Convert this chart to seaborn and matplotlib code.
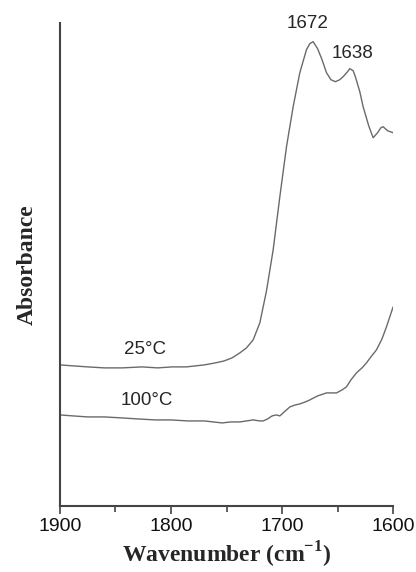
import matplotlib
matplotlib.use("Agg")
import matplotlib.pyplot as plt
import seaborn as sns
import pandas as pd
from matplotlib.ticker import MultipleLocator

# Wavenumbers (cm-1) and absorbance (arbitrary units, offset spectra)
wn_25 = [1900, 1888, 1875, 1860, 1844, 1826, 1812, 1799, 1786, 1778, 1770, 1760, 1752,
         1745, 1738, 1732, 1726, 1720, 1714, 1708, 1702, 1696, 1690, 1684, 1678, 1675,
         1672, 1668, 1664, 1660, 1656, 1652, 1648, 1645, 1641, 1639, 1636, 1634, 1630,
         1627, 1622, 1618, 1614, 1611, 1609, 1605, 1600]
ab_25 = [141, 140, 139, 138, 138, 139, 138, 139, 139, 140, 141, 143, 145,
         148, 153, 158, 166, 183, 215, 256, 309, 359, 399, 433, 456, 462,
         464, 457, 446, 433, 426, 424, 426, 429, 434, 437, 435, 429, 414,
         399, 380, 368, 373, 378, 379, 375, 373]

wn_100 = [1900, 1888, 1875, 1860, 1844, 1830, 1814, 1800, 1785, 1770, 1754, 1746, 1738,
          1732, 1726, 1720, 1717, 1713, 1709, 1705, 1702, 1697, 1693, 1688, 1684, 1679,
          1675, 1668, 1660, 1655, 1651, 1646, 1642, 1638, 1633, 1628, 1624, 1620, 1615,
          1610, 1606, 1603, 1600]
ab_100 = [91, 90, 89, 89, 88, 87, 86, 86, 85, 85, 83, 84, 84,
          85, 86, 85, 85, 87, 90, 91, 90, 95, 99, 101, 102, 104,
          106, 110, 113, 113, 113, 116, 119, 126, 133, 138, 143, 149, 156,
          167, 179, 189, 199]

curve_labels = ["25°C", "100°C"]
peak_labels = ["1672", "1638"]
x_ticks = [1900, 1800, 1700, 1600]

df = pd.concat([
    pd.DataFrame({"wn": wn_25, "ab": ab_25, "T": curve_labels[0]}),
    pd.DataFrame({"wn": wn_100, "ab": ab_100, "T": curve_labels[1]}),
])

sns.set_style("white")
plt.rcParams['font.family'] = ['Liberation Sans', 'DejaVu Sans']

fig = plt.figure(figsize=(4.16, 5.72), dpi=100)
ax = fig.add_axes([0.144, 0.1154, 0.801, 0.845])

sns.lineplot(data=df, x="wn", y="ab", hue="T", palette=["#6a6a6a", "#6a6a6a"],
             linewidth=1.0, legend=False, sort=False, estimator=None, ax=ax)

ax.set_xlim(1900, 1600)
ax.set_ylim(0, 483)

ax.set_xticks(x_ticks)
ax.set_xticklabels([str(t) for t in x_ticks], fontsize=14, color="#111111")
ax.xaxis.set_minor_locator(MultipleLocator(50))
ax.tick_params(axis="x", which="major", direction="out", length=6, width=1.2,
               color="#444444", bottom=True, pad=3)
ax.tick_params(axis="x", which="minor", direction="out", length=4, width=1.2,
               color="#444444", bottom=True)
ax.set_yticks([])

for s in ["top", "right"]:
    ax.spines[s].set_visible(False)
for s in ["left", "bottom"]:
    ax.spines[s].set_color("#444444")
    ax.spines[s].set_linewidth(1.5)

ax.set_xlabel("Wavenumber (cm$^{\\mathregular{-1}}$)", fontsize=17, fontweight="bold",
              family="Liberation Serif", labelpad=3)
ax.set_ylabel("Absorbance", fontsize=17, fontweight="bold",
              family="Liberation Serif", labelpad=16)

ax.text(1823.5, 156, curve_labels[0], fontsize=13.5, ha="center", va="center")
ax.text(1822, 105, curve_labels[1], fontsize=13.5, ha="center", va="center")
ax.text(1676.8, 482, peak_labels[0], fontsize=13.5, ha="center", va="center")
ax.text(1637, 452, peak_labels[1], fontsize=13.5, ha="center", va="center")

fig.savefig("out.png", dpi=100)
